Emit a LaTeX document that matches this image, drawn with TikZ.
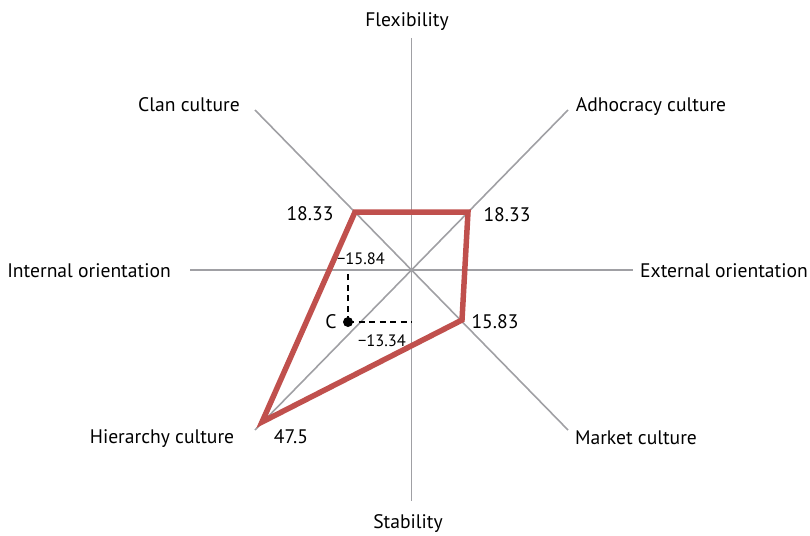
\documentclass[tikz,border=0pt]{standalone}
\usepackage{fontspec}
\setmainfont{PT Sans}
\usetikzlibrary{positioning}
\definecolor{axisgray}{RGB}{160,160,164}
\definecolor{profred}{RGB}{192,80,77}

\begin{document}
\begin{tikzpicture}[
      x=1pt,y=-1pt,
      axisline/.style={draw=axisgray,line width=1.6pt},
      axislabel/.style={anchor=base,inner sep=0,font=\fontsize{19.6}{23}\selectfont},
      score/.style={anchor=base,inner sep=0,font=\fontsize{19.6}{23}\selectfont},
      cogval/.style={anchor=base,inner sep=0,font=\fontsize{16.5}{19}\selectfont},
      profile/.style={draw=profred,line width=5.5pt,line join=miter},
      proj/.style={dash pattern=on 6pt off 4.5pt,line width=1.6pt},
    ]
    \useasboundingbox (0,0) rectangle (810,535);
    % axes
    \coordinate (o) at (411.5,270);
    \coordinate (top) at (411.5,38);
    \coordinate (bot) at (411.5,501);
    \coordinate (lft) at (190,270);
    \coordinate (rgt) at (633,270);
    \coordinate (tl) at (255,110);
    \coordinate (tr) at (568,110);
    \coordinate (bl) at (255,430);
    \coordinate (br) at (568,430);
    \draw [axisline] (top) -- (bot);
    \draw [axisline] (lft) -- (rgt);
    \draw [axisline] (tl) -- (br);
    \draw [axisline] (bl) -- (tr);
    %
    \node (flex) [axislabel] at (407,27) {Flexibility};
    \node (stab) [axislabel] at (408,528) {Stability};
    \node (intl) [axislabel] at (89,277) {Internal orientation};
    \node (extl) [axislabel] at (724,277) {External orientation};
    \node (clan) [axislabel] at (189,111) {Clan culture};
    \node (adho) [axislabel] at (651,111) {Adhocracy culture};
    \node (hier) [axislabel] at (162,443) {Hierarchy culture};
    \node (mark) [axislabel] at (636,444) {Market culture};
    % culture profile
    \coordinate (pclan) at (355,212);
    \coordinate (padho) at (468,212);
    \coordinate (pmark) at (462,320);
    \coordinate (phier) at (262,422);
    \draw [profile] (pclan) -- (padho) -- (pmark) -- (phier) -- cycle;
    %
    \node (sclan) [score] at (310,220) {18.33};
    \node (sadho) [score] at (507,221) {18.33};
    \node (smark) [score] at (495,328) {15.83};
    \node (shier) [score] at (291,443) {47.5};
    % centre of gravity
    \coordinate (c) at (348,322);
    \coordinate (cx) at (348,270);
    \coordinate (cy) at (411.5,322);
    \draw [proj] (c) -- (cx);
    \draw [proj] (c) -- (cy);
    \fill (c) circle (5);
    \node (cname) [score] at (331,328) {C};
    \node (xval) [cogval] at (361,264) {\textminus 15.84};
    \node (yval) [cogval] at (382,346) {\textminus 13.34};
  \end{tikzpicture}
\end{document}
